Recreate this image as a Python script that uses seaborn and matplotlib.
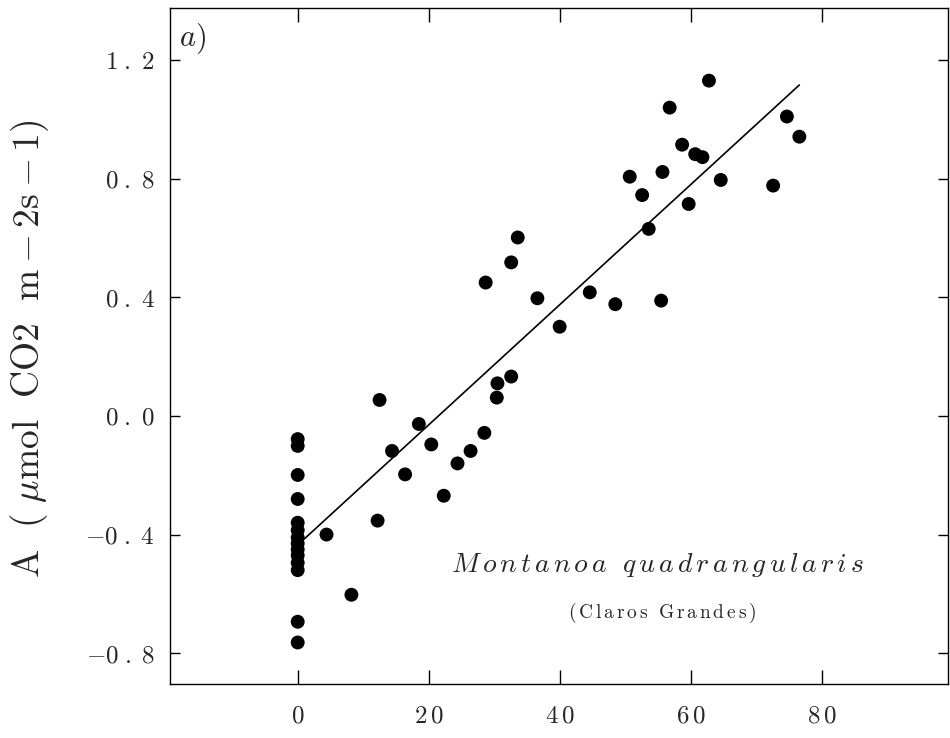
import numpy as np
import pandas as pd
import seaborn as sns
import matplotlib.pyplot as plt

# Irradiance (x) and net CO2 assimilation A for Montanoa quadrangularis
irradiance = [
    0, 0, 0, 0, 0, 0, 0, 0, 0, 0, 0, 0, 0, 0,
    4.4, 8.2, 12.2, 12.5, 14.4, 16.4, 18.5, 20.4, 22.3, 24.4,
    26.4, 28.5, 28.7, 30.4, 30.5, 32.6, 32.6, 33.6, 36.6, 40.0,
    44.6, 48.5, 50.7, 52.6, 53.6, 55.5, 55.7, 56.8, 58.7, 59.7,
    60.7, 61.8, 62.8, 64.6, 72.6, 74.7, 76.6,
]
assimilation = [
    -0.078, -0.101, -0.199, -0.280, -0.360, -0.385, -0.410, -0.430,
    -0.450, -0.470, -0.495, -0.520, -0.694, -0.764,
    -0.400, -0.603, -0.353, 0.054, -0.118, -0.197, -0.027, -0.096, -0.269, -0.160,
    -0.118, -0.057, 0.450, 0.062, 0.110, 0.133, 0.518, 0.602, 0.397, 0.301,
    0.417, 0.377, 0.807, 0.745, 0.631, 0.389, 0.823, 1.040, 0.915, 0.715,
    0.883, 0.873, 1.131, 0.796, 0.777, 1.010, 0.942,
]
x_ticks = [0, 20, 40, 60, 80]
y_ticks = [-0.8, -0.4, 0.0, 0.4, 0.8, 1.2]

df = pd.DataFrame({"irradiance": irradiance, "A": assimilation})

sns.set_theme(style="white")
plt.rcParams["mathtext.fontset"] = "cm"
plt.rcParams["font.family"] = ["DejaVu Serif"]

fig = plt.figure(figsize=(9.5, 7.38), dpi=100)
ax = fig.add_axes([170 / 950, 54 / 738, 778 / 950, 676 / 738])

sns.scatterplot(data=df, x="irradiance", y="A", color="black", s=100,
                edgecolor="none", ax=ax, zorder=3)
sns.regplot(data=df, x="irradiance", y="A", scatter=False, ci=None,
            truncate=True, color="black", line_kws=dict(lw=1.2), ax=ax)

ax.set_xlim(-19.5, 99.3)
ax.set_ylim(-0.904, 1.376)


def tex_num(v, fmt, digit_gap=""):
    s = fmt.format(abs(v))
    s = digit_gap.join(s)
    s = s.replace(".", r"\;.\;")
    return "$" + ("-" if v < 0 else "") + s + "$"


def spaced(text, cmd=r"\,", wrap=None):
    # math-mode string with a little extra room between the letters
    words = []
    for w in text.split(" "):
        w = cmd.join(w)
        if wrap:
            w = wrap + "{" + w + "}"
        words.append(w)
    return "$" + r"\ \ ".join(words) + "$"


ax.set_xticks(x_ticks)
ax.set_xticklabels([tex_num(v, "{:.0f}", r"\,") for v in x_ticks])
ax.set_yticks(y_ticks)
ax.set_yticklabels([tex_num(v, "{:.1f}") for v in y_ticks])

ax.tick_params(axis="x", direction="in", length=10, width=1.0, top=True,
               bottom=True, labelsize=18, pad=15, color="black")
ax.tick_params(axis="y", direction="in", length=7, width=1.0, left=True,
               right=True, labelsize=18, pad=11, color="black")

for sp in ax.spines.values():
    sp.set_color("black")
    sp.set_linewidth(1.0)

ax.set_xlabel("")
ax.set_ylabel("")

fig.text(30 / 950, 1 - 349 / 738,
         r"$\mathrm{A}\ \ (\ \mu\mathrm{mol}\ \ \mathrm{CO2}\ \ \mathrm{m}-2\mathrm{s}-1)$",
         rotation=90, ha="center", va="center", fontsize=27)

ax.text(0.012, 0.955, r"$a)$", transform=ax.transAxes, ha="left",
        va="center", fontsize=22)
ax.text(0.627, 0.176, spaced("Montanoa quadrangularis"),
        transform=ax.transAxes, ha="center", va="center", fontsize=20)
ax.text(0.632, 0.105, spaced("(Claros Grandes)", wrap=r"\mathrm"),
        transform=ax.transAxes, ha="center", va="center", fontsize=14)

fig.savefig("out.png", dpi=100)
